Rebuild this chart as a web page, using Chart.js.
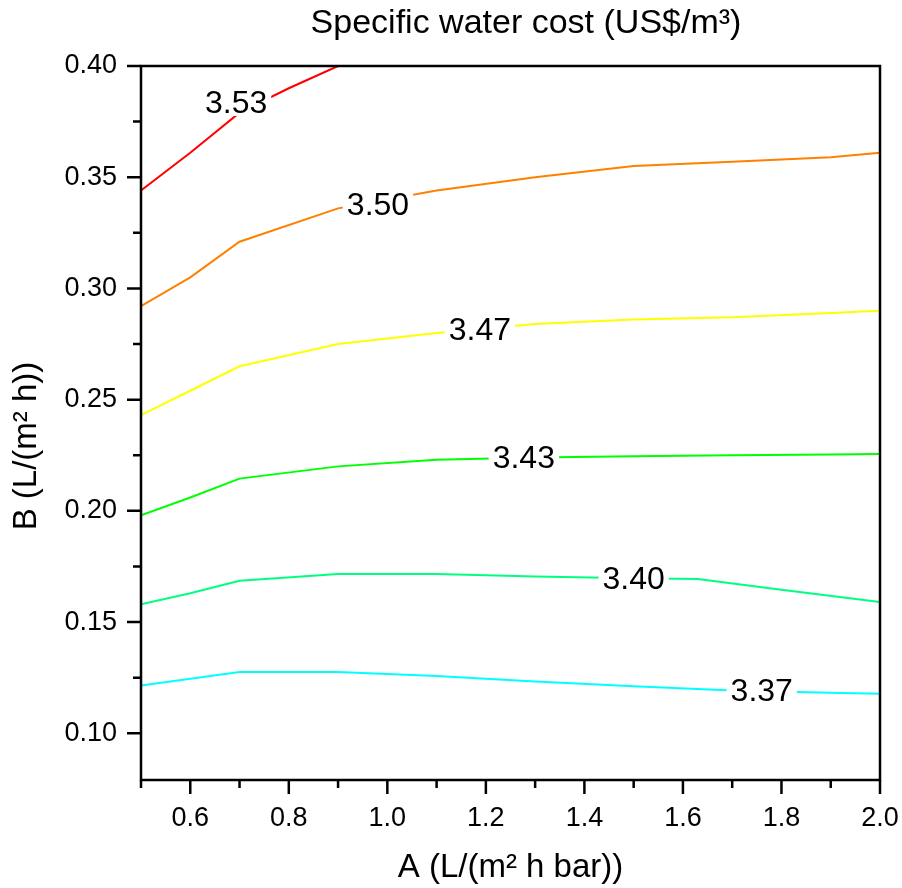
<!DOCTYPE html>
<html>
<head>
<meta charset="utf-8">
<script src="https://cdn.jsdelivr.net/npm/chart.js@4/dist/chart.umd.min.js"></script>
<style>body{margin:0;background:#fff}</style>
</head>
<body>
<canvas id="myChart" width="902" height="888"></canvas>
<script>
// axis ticks
const xTicks = [0.6, 0.8, 1.0, 1.2, 1.4, 1.6, 1.8, 2.0];
const xMinor = [0.5, 0.7, 0.9, 1.1, 1.3, 1.5, 1.7, 1.9];
const yTicks = [0.10, 0.15, 0.20, 0.25, 0.30, 0.35, 0.40];
const yMinor = [0.125, 0.175, 0.225, 0.275, 0.325, 0.375];

// contour lines (A, B)
const c353X = [0.5, 0.6, 0.7, 0.8, 0.9];
const c353Y = [0.344, 0.361, 0.379, 0.390, 0.400];
const c350X = [0.5, 0.6, 0.7, 0.9, 1.1, 1.3, 1.5, 1.7, 1.9, 2.0];
const c350Y = [0.292, 0.305, 0.321, 0.336, 0.344, 0.350, 0.355, 0.357, 0.359, 0.361];
const c347X = [0.5, 0.6, 0.7, 0.9, 1.1, 1.3, 1.5, 1.7, 1.9, 2.0];
const c347Y = [0.243, 0.254, 0.265, 0.275, 0.280, 0.284, 0.286, 0.287, 0.289, 0.290];
const c343X = [0.5, 0.6, 0.7, 0.9, 1.1, 1.3, 1.5, 1.7, 1.9, 2.0];
const c343Y = [0.198, 0.206, 0.2145, 0.220, 0.223, 0.224, 0.2245, 0.225, 0.2253, 0.2256];
const c340X = [0.5, 0.6, 0.7, 0.9, 1.1, 1.3, 1.5, 1.63, 1.8, 2.0];
const c340Y = [0.158, 0.163, 0.1686, 0.1716, 0.1716, 0.1705, 0.1697, 0.1694, 0.1645, 0.159];
const c337X = [0.5, 0.7, 0.9, 1.1, 1.3, 1.5, 1.7, 1.9, 2.0];
const c337Y = [0.1215, 0.1276, 0.1276, 0.1258, 0.1233, 0.1212, 0.1192, 0.1182, 0.1178];

// contour labels
const labelText = ['3.53', '3.50', '3.47', '3.43', '3.40', '3.37'];
const labelX = [0.693, 0.981, 1.188, 1.277, 1.500, 1.760];
const labelY = [0.3834, 0.3376, 0.2814, 0.2239, 0.1695, 0.1188];

const fontFamily = 'Arial, "Liberation Sans", sans-serif';

function toPoints(xs, ys) {
  return xs.map((x, i) => ({ x: x, y: ys[i] }));
}

function contour(xs, ys, color) {
  return {
    data: toPoints(xs, ys),
    borderColor: color,
    borderWidth: 2,
    pointRadius: 0,
    tension: 0,
    showLine: true,
    fill: false
  };
}

const framePlugin = {
  id: 'frame',
  afterDatasetsDraw(chart) {
    const ctx = chart.ctx;
    const xs = chart.scales.x;
    const ys = chart.scales.y;
    ctx.save();
    ctx.font = '32px ' + fontFamily;
    ctx.textAlign = 'center';
    ctx.textBaseline = 'middle';
    labelText.forEach((t, i) => {
      const px = xs.getPixelForValue(labelX[i]);
      const py = ys.getPixelForValue(labelY[i]);
      const w = ctx.measureText(t).width;
      ctx.fillStyle = '#fff';
      ctx.fillRect(px - w / 2 - 4, py - 13, w + 8, 26);
      ctx.fillStyle = '#000';
      ctx.fillText(t, px, py + 1);
    });
    ctx.restore();
  },
  afterDraw(chart) {
    const ctx = chart.ctx;
    const a = chart.chartArea;
    const xs = chart.scales.x;
    const ys = chart.scales.y;
    ctx.save();
    ctx.strokeStyle = '#000';
    ctx.lineWidth = 2.5;
    ctx.strokeRect(a.left, a.top, a.right - a.left, a.bottom - a.top);
    ctx.beginPath();
    xTicks.forEach(v => {
      const p = xs.getPixelForValue(v);
      ctx.moveTo(p, a.bottom); ctx.lineTo(p, a.bottom + 14);
    });
    xMinor.forEach(v => {
      const p = xs.getPixelForValue(v);
      ctx.moveTo(p, a.bottom); ctx.lineTo(p, a.bottom + 8);
    });
    yTicks.forEach(v => {
      const p = ys.getPixelForValue(v);
      ctx.moveTo(a.left, p); ctx.lineTo(a.left - 14, p);
    });
    yMinor.forEach(v => {
      const p = ys.getPixelForValue(v);
      ctx.moveTo(a.left, p); ctx.lineTo(a.left - 8, p);
    });
    ctx.stroke();

    ctx.fillStyle = '#000';
    ctx.textAlign = 'center';
    ctx.textBaseline = 'middle';
    ctx.font = '34px ' + fontFamily;
    ctx.fillText('Specific water cost (US$/m\u00b3)', 526, 24);
    ctx.font = '33px ' + fontFamily;
    ctx.fillText('A (L/(m\u00b2 h bar))', (a.left + a.right) / 2, 868);
    ctx.translate(27, 446);
    ctx.rotate(-Math.PI / 2);
    ctx.fillText('B (L/(m\u00b2 h))', 0, 0);
    ctx.restore();
  }
};

const chartContainer = document.getElementById('myChart');

const chartConfiguration = {
  type: 'scatter',
  data: {
    datasets: [
      contour(c353X, c353Y, '#ff0000'),
      contour(c350X, c350Y, '#ff8000'),
      contour(c347X, c347Y, '#ffff00'),
      contour(c343X, c343Y, '#00ff00'),
      contour(c340X, c340Y, '#00ff80'),
      contour(c337X, c337Y, '#00ffff')
    ]
  },
  options: {
    responsive: false,
    animation: false,
    layout: { padding: { top: 66, right: 22, left: 0, bottom: 0 } },
    plugins: {
      legend: { display: false },
      tooltip: { enabled: false },
      title: { display: false }
    },
    scales: {
      x: {
        type: 'linear',
        min: 0.5,
        max: 2.0,
        afterFit: s => { s.height = 108; s.paddingLeft = 0; s.paddingRight = 0; },
        afterBuildTicks: s => { s.ticks = xTicks.map(v => ({ value: v })); },
        grid: { display: false, drawTicks: false },
        border: { display: false },
        ticks: {
          autoSkip: false,
          maxRotation: 0,
          padding: 22,
          color: '#000',
          font: { family: fontFamily, size: 27 },
          callback: v => v.toFixed(1)
        }
      },
      y: {
        type: 'linear',
        min: 0.079,
        max: 0.40,
        afterFit: s => { s.width = 141; s.paddingTop = 0; s.paddingBottom = 0; },
        afterBuildTicks: s => { s.ticks = yTicks.map(v => ({ value: v })); },
        grid: { display: false, drawTicks: false },
        border: { display: false },
        ticks: {
          autoSkip: false,
          padding: 24,
          color: '#000',
          font: { family: fontFamily, size: 27 },
          callback: v => v.toFixed(2)
        }
      }
    }
  },
  plugins: [framePlugin]
};

const myChart = new Chart(chartContainer, chartConfiguration);
</script>
</body>
</html>
